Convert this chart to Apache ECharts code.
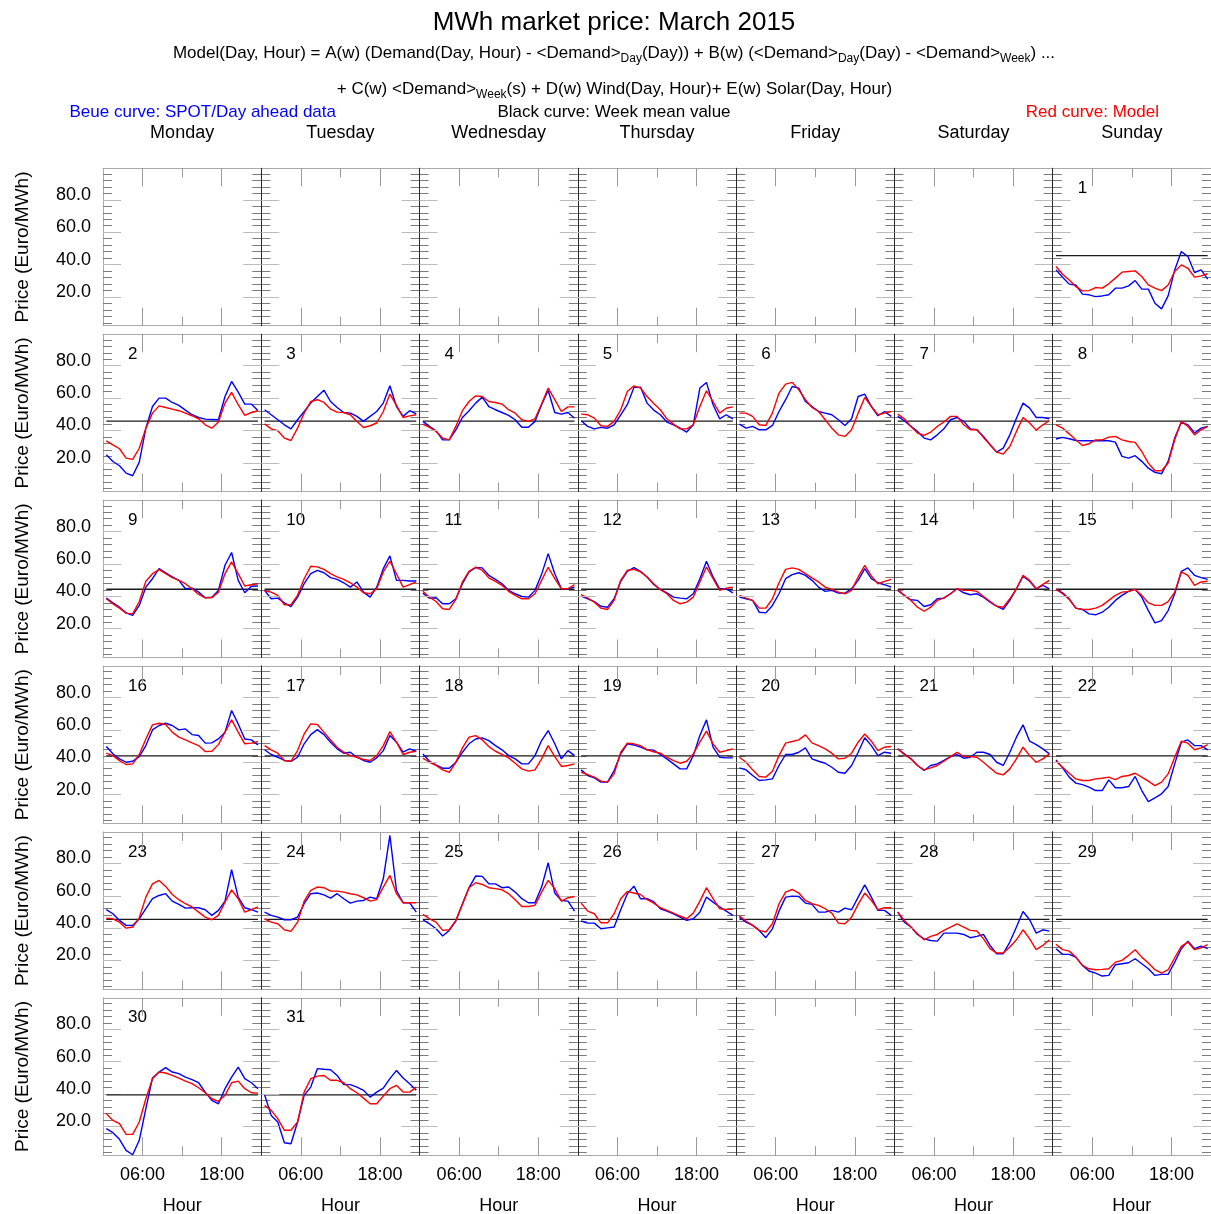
<!DOCTYPE html>
<html><head><meta charset="utf-8">
<script src="https://cdn.jsdelivr.net/npm/echarts@6/dist/echarts.min.js"></script>
<style>html,body{margin:0;padding:0;background:#fff}#c{width:1211px;height:1214px}</style>
</head><body><div id="c"></div>
<script>
const hours = [0,1,2,3,4,5,6,7,8,9,10,11,12,13,14,15,16,17,18,19,20,21,22,23];
const dayNames = ['Monday','Tuesday','Wednesday','Thursday','Friday','Saturday','Sunday'];
const yTickValues = [20,40,60,80];
const yMinorValues = [4,8,12,16,24,28,32,36,44,48,52,56,64,68,72,76,84,88,92,96];
const xLabelValues = [6,18];
const weekMean = [45.5,45.8,44.4,44.0,45.4,39.5];

const spotD1 = [36.7,32.2,27.9,27.4,21.7,21.3,20.2,20.6,21.3,25.4,25.4,26.8,30.1,24.8,24.8,16.1,12.6,20.6,36.7,48.0,45.0,35.1,36.7,31.0];
const modelD1 = [38.8,34.0,30.5,26.4,23.7,23.9,25.8,25.4,28.1,31.6,35.3,35.7,36.1,32.6,27.4,25.4,23.9,27.4,35.7,39.8,37.7,32.2,33.0,34.3];
const spotD2 = [25.0,20.8,18.2,13.6,12.0,20.4,41.4,54.8,60.0,60.0,57.3,55.5,52.6,49.7,48.0,47.0,46.8,46.6,61.0,70.3,63.7,56.3,56.3,52.2];
const modelD2 = [33.6,31.1,28.7,22.9,22.1,29.0,41.4,50.7,55.2,54.2,53.2,52.2,50.7,49.1,47.2,43.5,41.4,45.2,56.9,63.5,55.9,49.3,51.1,52.2];
const spotD3 = [52.8,49.7,46.6,43.5,41.0,46.6,51.7,56.9,61.0,64.9,57.9,54.2,51.1,50.7,48.7,45.6,48.7,51.7,56.9,67.6,54.8,48.7,52.2,50.3];
const modelD3 = [44.1,41.0,39.8,35.3,33.8,41.4,50.7,57.9,59.0,57.3,53.2,51.3,51.1,49.7,45.6,41.8,42.9,44.6,51.7,62.5,55.5,48.0,49.0,49.7];
const spotD4 = [45.6,42.5,39.8,34.2,34.2,40.4,48.0,52.2,56.9,60.6,54.8,52.8,51.1,49.3,46.6,42.0,42.0,45.6,55.9,64.7,51.1,50.1,51.1,47.6];
const modelD4 = [43.9,41.9,39.4,35.3,34.2,42.5,52.2,57.9,61.4,61.0,57.9,57.3,56.3,52.8,50.7,46.6,45.6,47.2,56.3,66.2,59.0,51.7,54.6,54.6];
const spotD5 = [46.0,42.5,41.0,41.9,41.4,43.5,49.7,55.9,66.6,66.8,56.9,52.6,49.7,45.2,43.5,41.4,39.0,43.5,66.2,69.7,55.9,47.2,49.7,47.2];
const modelD5 = [50.1,49.7,47.6,42.9,42.5,45.6,52.8,64.1,67.6,66.2,61.0,56.6,52.8,47.2,43.9,41.0,41.0,43.5,54.8,64.5,57.9,50.7,53.7,54.6];
const spotD6 = [43.9,41.4,42.5,40.4,40.4,43.1,51.7,59.0,67.2,66.2,57.9,54.8,51.7,50.7,49.7,46.6,43.1,47.2,61.0,62.5,54.8,49.1,51.7,48.7];
const modelD6 = [50.7,50.7,48.7,43.5,43.1,50.7,63.1,68.6,69.7,65.1,59.0,54.2,51.7,46.6,41.4,37.3,36.3,40.4,50.7,60.4,54.8,49.7,50.7,51.7];
const spotD7 = [48.7,46.0,42.5,39.4,35.3,34.2,37.3,41.0,46.6,48.0,45.6,41.0,40.4,36.3,31.2,26.6,29.1,37.3,47.6,56.9,53.8,48.0,48.0,47.2];
const modelD7 = [50.1,47.2,42.5,38.4,36.9,39.0,42.5,45.2,48.7,48.7,43.5,40.4,40.4,35.7,31.2,26.6,25.4,30.1,39.4,48.0,44.6,40.2,43.5,46.0];
const spotD8 = [34.7,35.7,34.9,33.8,33.6,33.6,33.6,33.6,33.6,32.8,24.0,22.9,24.4,20.9,16.7,14.1,13.2,20.9,35.3,45.2,43.5,38.4,41.4,42.5];
const modelD8 = [43.5,41.4,37.9,34.2,30.7,31.8,34.2,34.2,35.9,36.3,34.2,33.2,32.6,27.0,19.8,15.1,15.1,19.8,34.2,45.6,42.5,37.3,40.4,42.5];
const spotD9 = [38.9,36.0,33.3,29.8,28.2,34.4,45.7,50.9,57.1,54.6,52.0,49.9,44.7,45.1,42.6,39.1,39.5,43.7,59.2,67.1,49.9,42.2,46.2,46.4];
const modelD9 = [38.5,35.4,32.7,29.6,29.2,36.8,49.3,54.0,56.5,54.0,51.6,49.9,47.8,44.7,41.2,39.1,39.1,42.6,54.0,61.3,54.0,46.4,47.2,47.8];
const spotD10 = [43.7,38.5,38.9,36.0,33.7,39.5,47.8,54.0,56.1,54.6,51.6,50.5,48.4,45.7,48.9,42.6,39.5,45.7,57.1,65.0,49.9,49.9,49.5,49.5];
const modelD10 = [43.3,42.6,40.6,34.8,34.8,40.6,50.9,58.6,58.2,56.7,54.0,52.0,50.5,48.4,45.7,42.2,41.6,44.7,55.1,61.7,54.0,45.7,47.2,48.9];
const spotD11 = [42.0,38.9,39.1,35.4,35.4,38.5,47.8,55.1,57.8,57.6,53.0,50.5,47.8,43.7,41.6,39.9,39.5,43.7,53.6,66.4,54.0,44.7,44.7,45.7];
const modelD11 = [43.1,39.5,36.8,32.3,31.9,38.1,48.9,55.5,58.0,56.1,51.4,49.3,46.8,43.1,40.6,38.5,38.5,41.6,49.9,58.0,50.9,44.7,44.7,47.2];
const spotD12 = [40.2,38.5,36.8,33.9,33.3,38.5,49.3,55.5,57.8,55.5,52.0,47.3,44.3,42.2,39.5,38.9,38.5,41.6,50.9,61.7,52.0,44.7,44.7,42.2];
const modelD12 = [41.0,38.9,36.4,32.7,31.9,37.5,49.9,56.1,56.7,55.1,52.0,47.8,44.1,41.6,37.5,35.4,36.4,39.5,48.9,58.2,50.9,43.7,45.1,45.7];
const spotD13 = [39.5,38.5,37.5,30.2,29.8,34.4,41.6,50.9,53.4,54.6,53.0,49.9,45.7,43.1,43.7,42.0,42.0,44.7,49.9,57.1,50.9,48.4,47.2,45.7];
const modelD13 = [40.6,38.9,37.5,32.7,32.7,38.5,48.4,56.7,57.6,56.7,54.0,51.4,48.9,45.7,44.3,42.6,41.6,43.7,52.0,59.2,52.6,47.8,49.3,50.5];
const spotD14 = [43.7,40.6,37.9,37.5,33.7,34.8,38.5,38.9,41.6,44.7,42.2,41.0,41.6,39.5,36.4,33.9,31.9,37.5,44.7,52.4,49.3,44.7,46.8,44.7];
const modelD14 = [44.1,40.6,37.5,33.3,30.8,33.3,37.5,39.1,41.6,44.7,43.7,43.7,43.1,39.9,36.8,33.9,33.3,38.5,44.7,53.0,49.9,44.7,47.4,49.9];
const spotD15 = [44.3,42.2,38.5,32.7,31.9,29.2,28.6,30.2,33.3,37.5,40.6,43.1,44.3,39.5,31.2,23.6,25.0,31.2,41.6,55.5,57.6,53.0,51.6,50.5];
const modelD15 = [44.3,41.6,38.1,32.7,31.9,31.9,32.7,34.4,37.5,40.6,42.6,43.1,44.3,40.6,36.0,34.4,34.4,36.8,42.6,55.1,53.0,46.8,48.9,49.3];
const spotD16 = [49.7,45.2,42.1,40.0,40.6,43.5,50.3,60.0,62.7,64.1,62.7,60.0,60.6,57.1,56.5,51.8,52.0,54.4,58.6,72.0,63.7,54.4,53.8,50.7];
const modelD16 = [45.6,44.1,41.0,38.6,39.0,44.8,54.4,63.1,64.1,63.3,58.6,55.5,53.8,52.0,50.3,46.6,46.8,50.9,58.6,66.2,58.6,51.4,51.8,52.8];
const spotD17 = [47.7,44.8,43.1,41.1,40.6,43.1,51.4,57.1,60.2,57.1,52.4,48.3,45.6,46.2,43.1,41.1,40.0,42.7,47.2,56.5,52.4,46.2,48.3,46.8];
const modelD17 = [50.3,47.7,45.6,41.1,40.6,47.2,57.5,63.7,63.3,58.6,53.8,49.3,46.2,44.1,43.1,41.7,41.1,44.1,50.3,59.0,52.4,44.8,46.2,46.8];
const spotD18 = [45.2,40.6,38.4,36.3,36.3,40.0,46.2,51.4,54.4,55.1,53.4,50.3,47.7,44.1,42.1,39.0,39.0,44.1,53.4,59.6,51.4,42.1,47.2,44.1];
const modelD18 = [42.5,40.0,38.0,35.3,33.8,40.0,48.9,55.5,56.5,53.8,49.7,46.8,44.8,42.7,39.4,35.9,34.5,35.3,42.1,50.3,43.5,37.4,38.0,39.0];
const spotD19 = [35.3,31.8,30.3,27.7,27.7,34.9,45.2,51.4,50.7,49.3,47.7,47.5,44.8,42.1,39.0,35.9,35.9,44.1,56.5,66.2,49.3,43.1,42.7,42.7];
const modelD19 = [33.8,32.4,30.8,28.3,27.7,32.8,46.2,51.8,51.4,50.3,47.7,46.5,45.6,43.1,41.0,39.4,40.6,45.2,52.4,59.2,51.4,46.2,47.2,48.3];
const spotD20 = [36.5,35.3,31.8,28.7,29.1,29.7,38.0,44.8,44.8,46.2,48.9,42.1,40.6,39.4,36.9,33.8,33.2,38.0,46.2,55.1,50.3,44.1,46.2,45.6];
const modelD20 = [43.1,40.0,35.3,31.2,30.8,34.5,44.1,51.8,52.8,53.8,56.9,52.0,50.3,48.3,45.6,42.1,42.5,45.6,52.4,57.5,53.0,47.2,49.3,49.7];
const spotD21 = [48.3,45.2,42.1,38.0,34.9,38.0,39.0,41.1,43.5,44.8,42.5,43.1,46.2,46.2,44.8,40.0,38.0,46.2,55.5,63.1,53.0,50.9,48.3,45.2];
const modelD21 = [48.3,44.8,42.1,38.0,35.3,36.5,38.0,40.6,43.5,46.2,43.5,43.5,43.1,40.0,36.5,33.2,32.2,35.9,42.1,49.3,44.1,40.0,42.1,45.2];
const spotD22 = [41.5,36.5,30.8,27.1,26.2,24.6,22.5,22.5,29.1,24.2,24.2,25.0,31.2,22.5,15.7,18.0,20.5,25.0,39.0,52.4,53.8,50.3,50.3,47.7];
const modelD22 = [40.6,36.9,33.2,29.7,28.7,28.7,29.7,30.1,30.8,29.3,31.2,31.8,33.2,30.8,28.3,25.6,27.7,32.8,43.1,53.0,51.8,47.7,48.9,50.9];
const spotD23 = [51.4,48.9,44.8,41.7,41.7,45.8,52.0,58.2,60.2,61.3,56.7,54.7,52.4,52.6,52.6,51.4,47.9,51.0,56.7,76.1,59.2,52.6,51.4,49.9];
const modelD23 = [46.2,45.8,43.7,40.0,40.7,46.4,59.2,67.4,69.5,65.8,60.8,57.6,55.1,53.1,49.9,46.8,45.2,47.9,56.1,63.7,58.2,49.9,51.4,53.1];
const spotD24 = [49.9,47.9,46.8,45.2,45.2,46.8,55.1,61.3,61.7,60.6,58.6,61.3,58.2,55.5,56.7,57.1,59.2,58.2,70.5,97.3,63.3,55.7,55.7,49.9];
const modelD24 = [45.8,43.7,42.7,39.0,38.0,43.7,56.7,63.3,65.4,65.0,62.9,62.9,62.3,61.3,60.6,58.8,56.7,57.6,65.4,72.6,61.3,55.7,55.7,55.7];
const spotD25 = [45.2,42.7,39.6,35.1,38.6,44.4,55.1,65.0,72.2,72.0,67.4,67.4,65.0,65.4,62.3,58.2,55.7,55.7,65.4,80.4,61.7,57.1,56.7,50.5];
const modelD25 = [48.5,45.8,43.7,38.6,39.0,44.8,54.7,65.0,68.1,67.0,65.0,64.4,63.7,61.3,57.6,53.4,53.4,54.1,62.3,69.5,64.4,56.7,58.8,59.6];
const spotD26 = [44.4,43.1,43.1,39.6,40.2,40.7,51.4,61.3,66.0,58.2,58.2,56.4,52.0,50.5,48.9,46.8,44.8,45.8,49.9,59.2,56.1,53.1,50.5,47.9];
const modelD26 = [55.5,50.5,48.9,43.3,43.3,48.9,58.2,62.7,61.7,60.8,57.6,55.5,52.6,51.0,49.3,47.5,45.8,49.3,56.7,65.0,58.2,52.0,51.6,51.6];
const spotD27 = [46.8,43.7,41.7,38.6,34.1,39.6,50.5,59.2,59.8,59.6,55.5,54.7,49.9,49.9,51.0,49.9,52.4,51.4,59.2,66.8,59.2,51.0,51.0,47.9];
const modelD27 = [47.5,44.4,41.7,38.6,37.6,42.7,55.1,62.3,63.9,61.7,57.1,55.1,54.1,52.0,49.3,43.1,42.7,46.8,54.7,61.7,57.1,51.4,52.6,52.6];
const spotD28 = [49.9,43.7,40.7,36.1,33.4,32.4,32.0,36.9,36.9,36.9,36.1,34.1,34.9,36.1,29.3,24.2,24.2,31.4,40.7,50.3,45.2,36.9,39.0,38.2];
const modelD28 = [49.9,44.8,40.7,36.5,32.8,34.9,36.1,38.6,40.7,42.7,40.7,38.6,38.2,33.4,27.3,24.6,24.6,28.3,32.8,39.0,33.4,26.7,29.3,32.8];
const spotD29 = [27.3,23.8,23.8,22.1,17.0,13.5,12.2,10.4,10.8,17.4,18.0,18.6,21.1,18.0,14.9,10.8,11.4,11.4,19.0,27.3,32.0,27.3,28.9,27.3];
const modelD29 = [30.0,26.7,25.8,22.1,17.0,14.9,14.3,14.5,14.9,19.0,20.1,23.2,26.7,22.1,18.4,14.3,12.2,14.3,21.7,28.7,31.4,26.7,27.9,29.8];
const spotD30 = [18.6,16.1,12.0,5.2,2.5,11.4,31.0,49.9,53.6,56.3,53.6,52.6,50.5,48.9,47.0,41.2,36.1,34.0,43.3,50.5,56.7,49.5,47.0,43.3];
const modelD30 = [27.9,23.7,21.7,15.1,15.1,22.7,37.1,49.5,53.6,53.0,51.5,49.9,48.0,46.4,43.9,40.8,37.1,35.5,39.2,47.0,48.0,43.3,40.8,40.6];
const spotD31 = [39.6,26.8,22.7,9.9,9.3,22.7,39.2,44.3,55.7,55.3,55.0,51.5,45.8,45.8,44.3,42.3,38.1,41.2,43.7,49.5,54.6,49.9,46.4,42.3];
const modelD31 = [33.0,29.9,24.8,17.6,17.6,22.7,41.2,49.5,51.1,51.5,48.5,48.5,47.0,43.3,40.8,37.5,34.0,34.0,38.8,43.3,45.4,41.2,41.2,44.3];

const spotByDay = [spotD1,spotD2,spotD3,spotD4,spotD5,spotD6,spotD7,spotD8,spotD9,spotD10,spotD11,spotD12,spotD13,spotD14,spotD15,spotD16,spotD17,spotD18,spotD19,spotD20,spotD21,spotD22,spotD23,spotD24,spotD25,spotD26,spotD27,spotD28,spotD29,spotD30,spotD31];
const modelByDay = [modelD1,modelD2,modelD3,modelD4,modelD5,modelD6,modelD7,modelD8,modelD9,modelD10,modelD11,modelD12,modelD13,modelD14,modelD15,modelD16,modelD17,modelD18,modelD19,modelD20,modelD21,modelD22,modelD23,modelD24,modelD25,modelD26,modelD27,modelD28,modelD29,modelD30,modelD31];

const FONT = '"Liberation Sans", Arial, Helvetica, sans-serif';
const GL = 103, GT = 168.3, GW = 158.286, GH = 157.4, RS = 165.9;
const YMIN = 2.2, YMAX = 99.5;
const FRAME = '#a9a9a9', DAYLINE = '#2a2a2a', TICK_MAJ = '#bcbcbc', TICK_MIN = '#7c7c7c', TICK_X = '#9a9a9a';
const FIRST_DAY_OFFSET = 6; // March 1st 2015 = Sunday (7th column)

const grids = [], xAxes = [], yAxes = [], series = [], graphics = [];

function xAx(p, side, lastRow) {
  const ax = {
    gridIndex: p, type: 'value', min: 0, max: 24, interval: 12, position: side,
    axisLine: {show: true, onZero: false, lineStyle: {color: FRAME, width: 1}},
    axisTick: {show: true, inside: true, length: 9, lineStyle: {color: TICK_X, width: 1}},
    minorTick: {show: true, splitNumber: 2, length: 18, lineStyle: {color: TICK_X, width: 1}},
    axisLabel: {show: false}, splitLine: {show: false}, minorSplitLine: {show: false}
  };
  if (lastRow && side === 'bottom') {
    ax.axisLabel = {show: true, customValues: xLabelValues,
      formatter: v => (v < 10 ? '0' : '') + v + ':00',
      fontSize: 18, color: '#000', fontFamily: FONT, margin: 11};
    ax.name = 'Hour'; ax.nameLocation = 'middle'; ax.nameGap = 42;
    ax.nameTextStyle = {fontSize: 18, color: '#000', fontFamily: FONT};
  }
  return ax;
}
function yAx(p, side, major, c) {
  const dark = side === 'left' && c > 0;
  const ax = {
    gridIndex: p, type: 'value', min: YMIN, max: YMAX, position: side,
    axisLine: {show: major, onZero: false, lineStyle: {color: dark ? DAYLINE : FRAME, width: 1}},
    axisTick: {show: true, inside: true, length: major ? 18 : 9,
      customValues: major ? yTickValues : yMinorValues,
      lineStyle: {color: major ? TICK_MAJ : TICK_MIN, width: 1}},
    axisLabel: {show: false}, splitLine: {show: false},
    z: dark && major ? 6 : 1
  };
  if (major && side === 'left' && c === 0) {
    ax.axisLabel = {show: true, customValues: yTickValues,
      formatter: v => '{a|' + Number(v).toFixed(1) + '}',
      rich: {a: {fontSize: 18, color: '#000', fontFamily: FONT, padding: [0, 0, 10, 0]}},
      fontSize: 18, color: '#000', fontFamily: FONT, margin: 12};
    ax.name = 'Price (Euro/MWh)'; ax.nameLocation = 'middle'; ax.nameGap = 71;
    ax.nameTextStyle = {fontSize: 19, color: '#000', fontFamily: FONT};
  }
  return ax;
}

for (let p = 0; p < 42; p++) {
  const r = Math.floor(p / 7), c = p % 7;
  grids.push({left: GL + c * GW, top: GT + r * RS, width: GW, height: GH, outerBoundsMode: 'none'});
  xAxes.push(xAx(p, 'bottom', r === 5));
  xAxes.push(xAx(p, 'top', false));
  yAxes.push(yAx(p, 'left', true, c));
  yAxes.push(yAx(p, 'left', false, c));
  yAxes.push(yAx(p, 'right', true, c));
  yAxes.push(yAx(p, 'right', false, c));
}

for (let d = 1; d <= 31; d++) {
  const p = d - 1 + FIRST_DAY_OFFSET;
  const r = Math.floor(p / 7), c = p % 7;
  const base = {type: 'line', xAxisIndex: 2 * p, yAxisIndex: 4 * p, symbol: 'none', silent: true,
    animation: false, emphasis: {disabled: true}};
  series.push(Object.assign({}, base, {name: 'week' + d, z: 2,
    data: hours.map(h => [h + 0.5, weekMean[r]]), lineStyle: {color: '#1a1a1a', width: 1.3}}));
  series.push(Object.assign({}, base, {name: 'spot' + d, z: 3,
    data: hours.map((h, i) => [h + 0.5, spotByDay[d - 1][i]]), lineStyle: {color: '#0000ff', width: 1.4}}));
  series.push(Object.assign({}, base, {name: 'model' + d, z: 4,
    data: hours.map((h, i) => [h + 0.5, modelByDay[d - 1][i]]), lineStyle: {color: '#ff0000', width: 1.4}}));
  graphics.push({type: 'text', x: GL + c * GW + 25, y: GT + r * RS + 20, silent: true,
    style: {text: String(d), fontSize: 17, fontFamily: FONT, fill: '#000', align: 'left', verticalAlign: 'middle', textAlign: 'left', textVerticalAlign: 'middle'}});
}

function txt(x, y, text, size, color, align) {
  return {type: 'text', x: x, y: y, silent: true,
    style: {text: text, fontSize: size, fontFamily: FONT, fill: color, align: align, verticalAlign: 'middle', textAlign: align, textVerticalAlign: 'middle'}};
}
graphics.push(txt(614, 22.5, 'MWh market price: March 2015', 26, '#000', 'center'));
const richStyle = {
  n: {fontSize: 17, fontFamily: FONT, fill: '#000'},
  s: {fontSize: 12, fontFamily: FONT, fill: '#000', padding: [10, 0, 0, 0]}
};
graphics.push({type: 'text', x: 614, y: 53.5, silent: true, style: {
  text: '{n|Model(Day, Hour) = A(w) (Demand(Day, Hour) - <Demand>}{s|Day}{n|(Day)) + B(w) (<Demand>}{s|Day}{n|(Day) - <Demand>}{s|Week}{n|) ...}',
  rich: richStyle, fontSize: 17, fontFamily: FONT, fill: '#000', align: 'center', verticalAlign: 'middle'}});
graphics.push({type: 'text', x: 614.5, y: 89.5, silent: true, style: {
  text: '{n|+ C(w) <Demand>}{s|Week}{n|(s) + D(w) Wind(Day, Hour)+ E(w) Solar(Day, Hour)}',
  rich: richStyle, fontSize: 17, fontFamily: FONT, fill: '#000', align: 'center', verticalAlign: 'middle'}});
graphics.push(txt(69.5, 112, 'Beue curve: SPOT/Day ahead data', 17, '#0000ff', 'left'));
graphics.push(txt(614, 112, 'Black curve: Week mean value', 17, '#000', 'center'));
graphics.push(txt(1159, 112, 'Red curve: Model', 17, '#ff0000', 'right'));
dayNames.forEach((n, c) => graphics.push(txt(GL + c * GW + GW / 2, 133, n, 18, '#000', 'center')));

const chart = echarts.init(document.getElementById('c'), null, {renderer: 'canvas'});
chart.setOption({
  animation: false,
  backgroundColor: '#fff',
  textStyle: {fontFamily: FONT},
  grid: grids, xAxis: xAxes, yAxis: yAxes, series: series, graphic: graphics
});
</script></body></html>
